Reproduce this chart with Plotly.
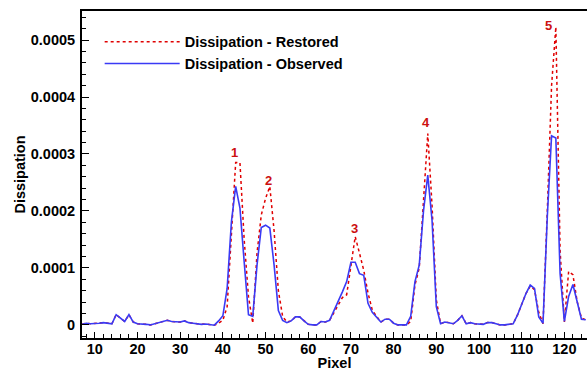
import plotly.graph_objects as go

pixels = list(range(7, 126))

observed = [
    1.0e-6, 3.0e-6, 2.0e-6, 2.0e-6, 3.0e-6, 4.0e-6, 3.0e-6, 2.0e-6,            # 7-14
    1.8e-5, 1.2e-5, 6.0e-6, 1.8e-5, 5.0e-6, 2.0e-6, 2.0e-6, 1.0e-6,            # 15-22
    0.0, 2.0e-6, 3.0e-6, 6.0e-6, 8.0e-6, 6.0e-6, 5.0e-6, 5.0e-6,               # 23-30
    7.0e-6, 4.0e-6, 3.0e-6, 2.0e-6, 1.0e-6, 1.5e-6, 0.0, -5.0e-7,              # 31-38
    7.0e-6, 1.6e-5, 6.4e-5, 1.81e-4, 2.43e-4, 2.05e-4, 1.10e-4, 1.8e-5,        # 39-46
    1.5e-5, 1.05e-4, 1.71e-4, 1.75e-4, 1.70e-4, 1.05e-4, 2.5e-5, 8.0e-6,       # 47-54
    4.0e-6, 7.0e-6, 1.4e-5, 1.4e-5, 7.0e-6, 1.0e-6, 0.0, 0.0,                  # 55-62
    6.0e-6, 5.0e-6, 8.0e-6, 2.4e-5, 4.1e-5, 5.8e-5, 7.6e-5, 1.10e-4,           # 63-70
    1.10e-4, 9.0e-5, 8.7e-5, 3.8e-5, 2.2e-5, 1.3e-5, 5.0e-6, 1.0e-5,           # 71-78
    1.0e-5, 3.0e-6, 0.0, 0.0, 0.0, 1.5e-5, 7.6e-5, 1.05e-4,                    # 79-86
    2.00e-4, 2.63e-4, 1.84e-4, 3.2e-5, 2.0e-6, 5.0e-6, 4.0e-6, 2.0e-6,         # 87-94
    8.0e-6, 1.6e-5, 2.0e-6, 4.0e-6, 2.0e-6, 1.0e-6, 1.0e-6, 4.0e-6,            # 95-102
    4.0e-6, 2.0e-6, 0.0, 0.0, 1.0e-6, 2.0e-6, 1.7e-5, 3.6e-5,                  # 103-110
    5.5e-5, 7.0e-5, 6.4e-5, 1.4e-5, 3.0e-6, 1.90e-4, 3.32e-4, 3.28e-4,         # 111-118
    9.0e-5, 6.0e-6, 5.0e-5, 7.1e-5, 3.8e-5, 1.0e-5, 9.0e-6,                    # 119-125
]

restored = [
    1.0e-6, 3.0e-6, 2.0e-6, 2.0e-6, 3.0e-6, 4.0e-6, 3.0e-6, 2.0e-6,            # 7-14
    1.8e-5, 1.2e-5, 6.0e-6, 1.8e-5, 5.0e-6, 2.0e-6, 2.0e-6, 1.0e-6,            # 15-22
    0.0, 2.0e-6, 3.0e-6, 6.0e-6, 8.0e-6, 6.0e-6, 5.0e-6, 5.0e-6,               # 23-30
    7.0e-6, 4.0e-6, 3.0e-6, 2.0e-6, 1.0e-6, 1.5e-6, 0.0, -5.0e-7,              # 31-38
    3.0e-6, 8.0e-6, 3.2e-5, 1.55e-4, 2.85e-4, 2.85e-4, 1.49e-4, 5.0e-5,        # 39-46
    3.0e-6, 1.26e-4, 1.93e-4, 2.22e-4, 2.43e-4, 1.65e-4, 6.0e-5, 1.5e-5,       # 47-54
    5.0e-6, 7.0e-6, 1.4e-5, 1.4e-5, 7.0e-6, 1.0e-6, 0.0, 0.0,                  # 55-62
    6.0e-6, 5.0e-6, 8.0e-6, 2.2e-5, 3.5e-5, 4.8e-5, 5.3e-5, 1.00e-4,           # 63-70
    1.55e-4, 1.26e-4, 9.6e-5, 5.6e-5, 2.6e-5, 1.5e-5, 5.0e-6, 1.0e-5,          # 71-78
    1.0e-5, 3.0e-6, 0.0, 0.0, 0.0, 6.0e-6, 7.0e-5, 1.00e-4,                    # 79-86
    2.10e-4, 3.36e-4, 2.10e-4, 4.4e-5, 2.0e-6, 5.0e-6, 4.0e-6, 2.0e-6,         # 87-94
    8.0e-6, 1.6e-5, 2.0e-6, 4.0e-6, 2.0e-6, 1.0e-6, 1.0e-6, 4.0e-6,            # 95-102
    4.0e-6, 2.0e-6, 0.0, 0.0, 1.0e-6, 2.0e-6, 1.7e-5, 3.6e-5,                  # 103-110
    5.5e-5, 6.8e-5, 6.2e-5, 2.2e-5, 2.0e-6, 2.00e-4, 4.20e-4, 5.23e-4,         # 111-118
    1.30e-4, 5.0e-6, 9.4e-5, 8.8e-5, 4.1e-5, 1.2e-5, 9.0e-6,                   # 119-125
]

peak_labels = ["1", "2", "3", "4", "5"]
peak_label_x = [42.8, 50.6, 70.9, 87.7, 116.3]
peak_label_y = [0.000302, 0.000254, 0.000170, 0.000355, 0.000526]

y_tick_vals = [0, 0.0001, 0.0002, 0.0003, 0.0004, 0.0005]
y_tick_text = ["0", "0.0001", "0.0002", "0.0003", "0.0004", "0.0005"]
x_tick_vals = [10, 20, 30, 40, 50, 60, 70, 80, 90, 100, 110, 120]

FONT = "Arial, 'Liberation Sans', sans-serif"

fig = go.Figure()
fig.add_trace(go.Scatter(
    x=pixels, y=restored, mode="lines", name="Dissipation - Restored",
    line=dict(color="#e00000", width=1.5, dash="dot"),
))
fig.add_trace(go.Scatter(
    x=pixels, y=observed, mode="lines", name="Dissipation - Observed",
    line=dict(color="#3a3af5", width=1.6),
))

for t, xv, yv in zip(peak_labels, peak_label_x, peak_label_y):
    fig.add_annotation(x=xv, y=yv, text="<b>" + t + "</b>", showarrow=False,
                       font=dict(family=FONT, size=13, color="#cc1010"))

fig.update_layout(
    width=587, height=371,
    margin=dict(l=82, r=0, t=11, b=33, autoexpand=False),
    paper_bgcolor="white", plot_bgcolor="white",
    font=dict(family=FONT, size=14.5, color="black"),
    showlegend=True,
    legend=dict(
        x=0.035, y=0.955, xanchor="left", yanchor="top",
        bgcolor="rgba(0,0,0,0)", borderwidth=0,
        font=dict(family=FONT, size=14.5, color="black", weight="bold"),
        itemwidth=75, tracegroupgap=0,
    ),
    xaxis=dict(
        range=[7, 125.3], showgrid=False, zeroline=False, automargin=False,
        showline=True, linecolor="black", linewidth=2, mirror=True,
        ticks="inside", ticklen=6, tickwidth=1.2, tickcolor="black",
        tickvals=x_tick_vals,
        tickfont=dict(family=FONT, size=14.5, weight="bold"),
        ticklabelstandoff=-3,
        minor=dict(dtick=2, ticks="inside", ticklen=4, tickwidth=1, tickcolor="black", showgrid=False),
        title=dict(text="<b>Pixel</b>", font=dict(family=FONT, size=14.5), standoff=0),
    ),
    yaxis=dict(
        range=[-0.000023, 0.000551], showgrid=False, zeroline=False, automargin=False,
        showline=True, linecolor="black", linewidth=2, mirror=False,
        ticks="inside", ticklen=7, tickwidth=1.2, tickcolor="black",
        tickvals=y_tick_vals, ticktext=["<b>" + s + "</b>" for s in y_tick_text],
        tickfont=dict(family=FONT, size=14.5),
        ticklabelstandoff=2,
        minor=dict(dtick=0.00002, tick0=0, ticks="inside", ticklen=4, tickwidth=1, tickcolor="black", showgrid=False),
        title=dict(text="<b>Dissipation</b>", font=dict(family=FONT, size=14.5), standoff=2),
    ),
)

fig.write_html("out.html", config={"displayModeBar": False},
               post_script="document.body.style.margin='0px';")
